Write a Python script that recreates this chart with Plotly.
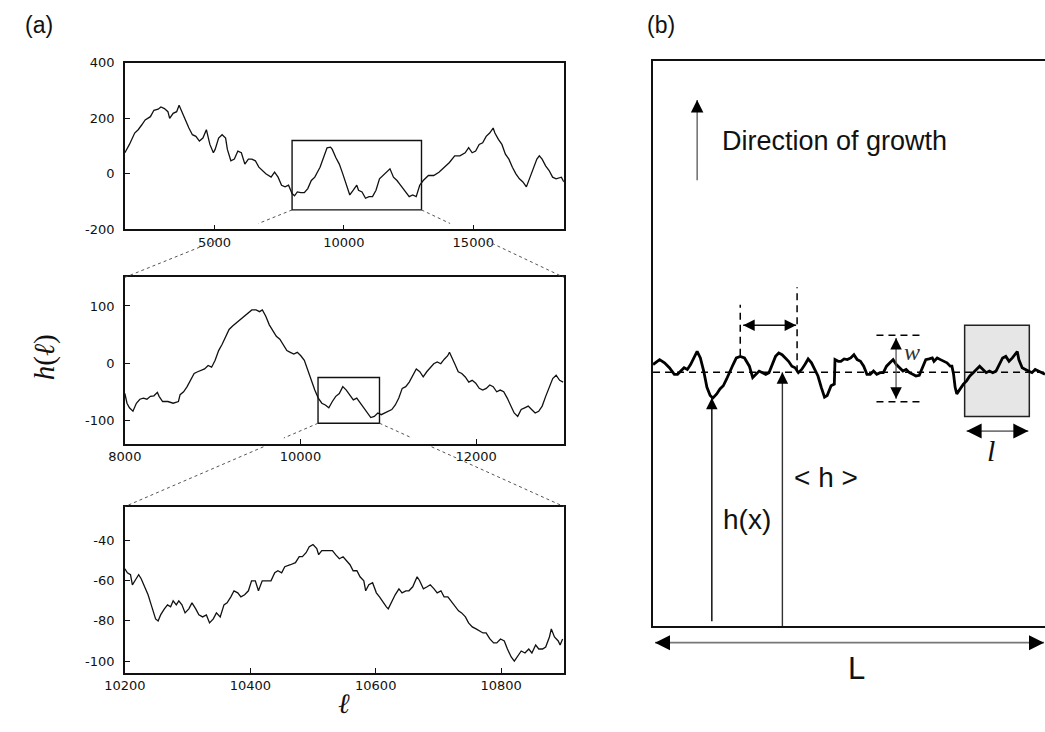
import plotly.graph_objects as go

# ---------------- data ----------------
# (a) top panel: whole interface h(l)
top_x = [1540, 1716, 1919, 2054, 2189, 2324, 2527, 2662, 2824, 2933, 3068, 3203, 3270, 3405, 3541, 3635,
         3743, 3878, 4014, 4149, 4284, 4419, 4554, 4689, 4757, 4824, 4959, 5027, 5162, 5297, 5432, 5500,
         5635, 5770, 5905, 6040, 6176, 6311, 6446, 6581, 6716, 6851, 6986, 7189, 7324, 7459, 7594, 7729,
         7864, 7999, 8094, 8202, 8337, 8472, 8607, 8743, 8878, 9013, 9080, 9216, 9351, 9486, 9553, 9689,
         9824, 9959, 10094, 10229, 10364, 10499, 10567, 10702, 10837, 10972, 11107, 11242, 11377, 11512,
         11647, 11782, 11917, 12053, 12188, 12323, 12525, 12660, 12795, 12931, 13066, 13268, 13471, 13674,
         13876, 14079, 14282, 14484, 14687, 14822, 14957, 15092, 15228, 15363, 15498, 15633, 15768, 15836,
         15971, 16106, 16241, 16376, 16511, 16647, 16782, 16917, 17052, 17187, 17322, 17457, 17552, 17660,
         17795, 17930, 18065, 18200, 18403, 18500]
top_h = [76, 106, 147, 159, 176, 194, 206, 229, 233, 241, 235, 224, 200, 218, 224, 247,
         224, 194, 165, 141, 135, 118, 129, 159, 129, 106, 76, 88, 129, 141, 129, 88,
         47, 53, 82, 76, 35, 53, 53, 47, 24, 12, 0, -12, 6, -12, -41, -47,
         -41, -71, -79, -65, -68, -68, -53, -24, -12, 12, 24, 59, 94, 96, 88, 59,
         35, 0, -35, -76, -59, -41, -59, -65, -88, -82, -82, -59, -18, -6,
         6, 18, -12, -24, -41, -59, -82, -76, -82, -41, -24, -6, -6, 6,
         24, 41, 65, 65, 76, 94, 76, 82, 106, 112, 135, 147, 165, 147,
         124, 106, 71, 53, 24, 0, -18, -29, -47, -12, 24, 53, 65, 53,
         29, 12, -12, -18, -12, -29]

# (a) middle panel: zoom 8000-13000
mid_x = [8000, 8024, 8052, 8092, 8131, 8171, 8211, 8251, 8291, 8331, 8370, 8390, 8430, 8490, 8550, 8610,
         8629, 8669, 8709, 8749, 8789, 8829, 8869, 8908, 8948, 8988, 9028, 9068, 9108, 9147, 9187, 9227,
         9267, 9307, 9347, 9386, 9446, 9494, 9534, 9566, 9605, 9645, 9685, 9725, 9765, 9805, 9845, 9884,
         9924, 9964, 10004, 10044, 10084, 10124, 10163, 10203, 10243, 10283, 10323, 10363, 10402, 10442,
         10482, 10522, 10562, 10602, 10641, 10681, 10721, 10761, 10801, 10841, 10881, 10920, 10960, 11000,
         11040, 11080, 11120, 11159, 11199, 11239, 11279, 11319, 11359, 11398, 11438, 11478, 11518, 11558,
         11598, 11638, 11677, 11697, 11717, 11757, 11797, 11837, 11877, 11917, 11956, 11996, 12036, 12076,
         12116, 12156, 12195, 12235, 12275, 12315, 12355, 12395, 12434, 12474, 12514, 12554, 12594, 12633,
         12673, 12713, 12753, 12793, 12833, 12873, 12912, 12952, 12992]
mid_h = [-53, -70, -78, -84, -70, -63, -61, -63, -58, -57, -51, -58, -67, -67, -70, -67,
         -55, -50, -41, -30, -18, -15, -13, -10, -4, -7, 5, 22, 33, 45, 59, 65,
         70, 74, 79, 85, 93, 93, 90, 93, 82, 67, 56, 47, 42, 33, 22, 19,
         16, 19, 13, 5, -13, -30, -47, -61, -70, -73, -78, -67, -58, -53,
         -41, -47, -55, -64, -61, -70, -78, -87, -95, -93, -87, -90, -87, -84,
         -81, -73, -61, -44, -41, -33, -21, -10, -15, -24, -15, -7, -1, 2,
         -1, 7, 13, 19, 13, -1, -15, -18, -24, -33, -30, -35, -44, -47,
         -44, -38, -41, -50, -47, -50, -61, -75, -87, -93, -81, -78, -75, -81,
         -87, -84, -75, -58, -41, -27, -21, -30, -33]

# (a) bottom panel: zoom 10200-10900
bot_x = [10200, 10204, 10209, 10212, 10218, 10222, 10226, 10232, 10237, 10243, 10249, 10253, 10257, 10263,
         10268, 10273, 10277, 10282, 10286, 10291, 10296, 10302, 10307, 10313, 10318, 10324, 10330, 10335,
         10341, 10346, 10352, 10358, 10363, 10369, 10374, 10380, 10385, 10391, 10397, 10402, 10408, 10413,
         10419, 10425, 10433, 10439, 10444, 10450, 10455, 10464, 10472, 10478, 10483, 10489, 10494, 10500,
         10506, 10509, 10514, 10520, 10525, 10531, 10536, 10542, 10548, 10553, 10559, 10564, 10570, 10575,
         10581, 10584, 10589, 10595, 10601, 10606, 10612, 10617, 10620, 10626, 10631, 10637, 10642, 10648,
         10653, 10659, 10666, 10670, 10676, 10682, 10687, 10693, 10698, 10704, 10709, 10715, 10720, 10726,
         10732, 10737, 10743, 10748, 10754, 10760, 10765, 10771, 10776, 10782, 10788, 10793, 10799, 10805,
         10810, 10816, 10821, 10827, 10832, 10838, 10844, 10849, 10855, 10860, 10866, 10871, 10877, 10880,
         10885, 10891, 10894, 10898]
bot_h = [-54, -56, -57, -62, -59, -57, -59, -63, -67, -73, -79, -80, -77, -74,
         -72, -73, -70, -72, -70, -72, -76, -74, -71, -74, -77, -78, -77, -81,
         -79, -76, -78, -72, -71, -68, -65, -66, -68, -67, -65, -60, -60, -65,
         -60, -60, -60, -56, -55, -56, -53, -52, -51, -48, -48, -46, -43, -42,
         -44, -47, -45, -45, -45, -45, -47, -49, -48, -50, -52, -55, -55, -58,
         -60, -65, -62, -61, -66, -68, -71, -73, -74, -70, -67, -64, -66, -65,
         -65, -63, -58, -60, -64, -63, -62, -64, -66, -65, -68, -68, -70, -72,
         -75, -76, -78, -81, -83, -84, -85, -86, -86, -89, -91, -91, -89, -90,
         -94, -98, -100, -97, -95, -96, -94, -96, -92, -94, -94, -93, -88, -84,
         -88, -90, -92, -89]

# (b) schematic interface profile (horizontal position, height above substrate)
surf_x = [0, 6.7, 11.7, 16.7, 21.7, 25, 28.3, 31.7, 35, 38.3, 41.7, 45, 48.3, 51.7, 55, 58.3, 61, 65,
          68.3, 71.7, 75, 78.3, 81.7, 85, 89, 93.3, 98.3, 101.7, 105, 108.3, 111.7, 115, 118.3, 121.7,
          125, 128.3, 131.7, 135, 138.3, 141.7, 145, 148.3, 151.7, 155, 158.3, 161.7, 165, 168.3, 171.7,
          175, 177.7, 181.7, 185, 185.7, 189, 191.7, 195, 198.3, 201.7, 205, 208.3, 211.7, 215, 218.3,
          221.7, 225, 228.3, 231.7, 235, 238.3, 241.7, 245, 248.3, 251.7, 255, 258.3, 261.7, 265, 268.3,
          271.7, 275, 278.3, 281.7, 285, 286.7, 290, 293.3, 296.7, 300, 303.3, 305, 306.7, 308.3, 310,
          313.3, 316.7, 320, 323.3, 326.7, 330, 333.3, 336.7, 340, 343.3, 346.7, 350, 353.3, 356.7, 360,
          363.3, 366.7, 370, 371.7, 373.3, 376.7, 380, 383.3, 386.7, 390, 393.3, 396.7, 400]
surf_h = [267, 272, 268.7, 263.7, 257, 257, 260.3, 263.7, 262, 267, 273.7, 280.3, 273.7, 260.3, 243.7,
          235.3, 232.7, 237, 242, 245.3, 252, 260.3, 267, 273.7, 275.3, 273.7, 265.3, 253.7, 257, 260.3,
          258.7, 257, 258.7, 267, 275.3, 278.7, 277, 273.7, 270.3, 265.3, 263.7, 258.7, 262, 267, 272.7,
          268.7, 262, 255.3, 243.7, 233.7, 235.3, 245.3, 247, 272, 270.3, 270.3, 272.7, 272, 273.7, 277,
          272, 270.3, 265.3, 257, 257, 260.3, 257, 258.7, 258.7, 265.3, 268.7, 272, 267, 263.7, 260.3,
          262, 258.7, 257, 255.3, 256, 263.7, 272, 272.7, 273.7, 270.3, 273.7, 272, 270.3, 268.7, 265.3,
          265.3, 257, 243.7, 237, 242, 247, 250.3, 255.3, 258.7, 262, 265.3, 262, 258.7, 260.3, 258.7,
          260.3, 267, 273.7, 275.3, 270.3, 273.7, 278.7, 280.3, 272, 263.7, 262, 260.3, 258.7, 262,
          260.3, 258.7, 257]
mean_h = 259
system_L = 400
box_l = [318, 384]
box_v = [214, 307]

# ---------------- layout helpers ----------------
W, H = 1045, 732
LX0, LX1 = 106, 554
panels = [
    dict(top=57, bot=227, xr=[1540, 18500], yr=[-200, 400],
         xt=[5000, 10000, 15000], yt=[400, 200, 0, -200], zoom=[8000, 13000, -130, 120]),
    dict(top=276, bot=446, xr=[8000, 13000], yr=[-141, 150],
         xt=[8000, 10000, 12000], yt=[100, 0, -100], zoom=[10200, 10900, -105, -25]),
    dict(top=510, bot=680, xr=[10200, 10900], yr=[-106, -23],
         xt=[10200, 10400, 10600, 10800], yt=[-40, -60, -80, -100], zoom=None),
]
series = [(top_x, top_h), (mid_x, mid_h), (bot_x, bot_h)]

# schematic axis placement (pixels)
SX0, STOP, SBOT = 645, 55, 632


def to_px(p, xv, yv):
    px = LX0 + (xv - p['xr'][0]) / (p['xr'][1] - p['xr'][0]) * (LX1 - LX0)
    py = p['bot'] - (yv - p['yr'][0]) / (p['yr'][1] - p['yr'][0]) * (p['bot'] - p['top'])
    return px, py


fig = go.Figure()
shapes = []
annotations = []
tickfont = dict(family="DejaVu Sans, Liberation Sans, sans-serif", size=13, color="#111")

for i, (p, (sx, sy)) in enumerate(zip(panels, series), start=1):
    xa = 'x' if i == 1 else f'x{i}'
    ya = 'y' if i == 1 else f'y{i}'
    fig.add_trace(go.Scatter(x=sx, y=sy, mode='lines', xaxis=xa, yaxis=ya,
                             line=dict(color='#111', width=1.3), hoverinfo='skip'))
    common = dict(showline=True, mirror=True, linecolor='#111', linewidth=1.6, showgrid=False,
                  zeroline=False, ticks='inside', ticklen=5, tickwidth=1.2, tickcolor='#111',
                  tickfont=tickfont)
    fig.update_layout(**{
        ('xaxis' if i == 1 else f'xaxis{i}'): dict(
            domain=[LX0 / W, LX1 / W], range=p['xr'], anchor=ya,
            tickvals=p['xt'], ticktext=[str(v) for v in p['xt']], **common),
        ('yaxis' if i == 1 else f'yaxis{i}'): dict(
            domain=[1 - p['bot'] / H, 1 - p['top'] / H], range=p['yr'], anchor=xa,
            tickvals=p['yt'], ticktext=[str(v) for v in p['yt']], ticklabelstandoff=6, **common),
    })
    if p['zoom'] is not None:
        z0, z1, zb, zt = p['zoom']
        shapes.append(dict(type='rect', xref=xa, yref=ya, x0=z0, x1=z1, y0=zb, y1=zt,
                           line=dict(color='#111', width=1.4)))
        nxt = panels[i]
        gap0, gap1 = p['bot'] - 6, p['bot'] + (9 if i == 1 else 3)
        for corner_x, target_px in ((z0, LX0), (z1, LX1)):
            cx, cy = to_px(p, corner_x, zb)
            tx, ty = target_px, nxt['top']

            def at_y(yy, cx=cx, cy=cy, tx=tx, ty=ty):
                return cx + (tx - cx) * (yy - cy) / (ty - cy)
            for (a, b) in (((cx, cy), (at_y(gap0), gap0)), ((at_y(gap1), gap1), (tx, ty))):
                shapes.append(dict(type='line', xref='paper', yref='paper',
                                   x0=a[0] / W, y0=1 - a[1] / H, x1=b[0] / W, y1=1 - b[1] / H,
                                   line=dict(color='#555', width=1, dash='dot')))

# ---------------- (b) schematic ----------------
fig.add_trace(go.Scatter(x=surf_x, y=surf_h, mode='lines', xaxis='x4', yaxis='y4',
                         line=dict(color='black', width=2.8), hoverinfo='skip'))
fig.update_layout(
    xaxis4=dict(domain=[SX0 / W, 1.0], range=[0, system_L], anchor='y4', showline=True, mirror=True,
                linecolor='#111', linewidth=2, showticklabels=False, ticks='', showgrid=False,
                zeroline=False),
    yaxis4=dict(domain=[1 - SBOT / H, 1 - STOP / H], range=[0, SBOT - STOP], anchor='x4',
                showline=True, mirror=False, linecolor='#111', linewidth=2, showticklabels=False,
                ticks='', showgrid=False, zeroline=False),
)
# grey averaging box
shapes.append(dict(type='rect', xref='x4', yref='y4', x0=box_l[0], x1=box_l[1], y0=box_v[0], y1=box_v[1],
                   fillcolor='#e6e6e6', line=dict(color='#222', width=1.5), layer='below'))
# mean height dashed line
shapes.append(dict(type='line', xref='x4', yref='y4', x0=0, x1=system_L, y0=mean_h, y1=mean_h,
                   line=dict(color='black', width=1.5, dash='7px,5px')))
# dashed verticals marking a lateral distance
shapes.append(dict(type='line', xref='x4', yref='y4', x0=89, x1=89, y0=276, y1=328,
                   line=dict(color='black', width=1.5, dash='7px,5px')))
shapes.append(dict(type='line', xref='x4', yref='y4', x0=147, x1=147, y0=mean_h, y1=346,
                   line=dict(color='black', width=1.5, dash='7px,5px')))
# width w markers
for yy in (229, 297):
    shapes.append(dict(type='line', xref='x4', yref='y4', x0=228, x1=273, y0=yy, y1=yy,
                       line=dict(color='black', width=1.5, dash='7px,5px')))


def sgn(v):
    return (v > 0) - (v < 0)


def arrow(x0, y0, x1, y1, both=False, color='#111', width=1.4, head=2.2, ref=('x4', 'y4')):
    """shaft drawn as a line, black filled heads drawn as short annotation arrows"""
    shapes.append(dict(type='line', xref=ref[0], yref=ref[1], x0=x0, y0=y0, x1=x1, y1=y1,
                       line=dict(color=color, width=width)))
    # screen direction of the shaft (y grows downward on screen)
    dx, dy = sgn(x1 - x0), -sgn(y1 - y0)
    ends = [((x1, y1), (dx, dy))]
    if both:
        ends.append(((x0, y0), (-dx, -dy)))
    for (tx, ty), (ux, uy) in ends:
        annotations.append(dict(x=tx, y=ty, xref=ref[0], yref=ref[1], ax=-ux * 10, ay=-uy * 10,
                                axref='pixel', ayref='pixel', showarrow=True, text='',
                                arrowhead=2, arrowsize=head / 1.2, arrowwidth=1.2,
                                arrowcolor='black'))


arrow(45, 455, 45, 537, color='#555', width=1.3, head=2.5)            # direction of growth
arrow(60, 5, 60, 233, color='#111', width=1.5, head=2.3)              # h(x)
arrow(132, 0, 132, mean_h, color='#333', width=1.4, head=2.3)         # <h>
arrow(92, 307, 146, 307, both=True, color='#111', width=1.5, head=2.3)
arrow(248, 232, 248, 294, both=True, color='#555', width=1.3, head=2.3)
arrow(320, 199, 383, 199, both=True, color='#777', width=1.8, head=3.0)
# system size L (below the frame, so placed in page coordinates)
arrow(647 / W, 1 - 649 / H, 1044 / W, 1 - 649 / H, both=True, color='#777', width=1.8, head=3.0,
      ref=('paper', 'paper'))

sans = "Liberation Sans, Arial, sans-serif"
serif = "Liberation Serif, DejaVu Serif, serif"
annotations += [
    dict(x=68, y=495, xref='x4', yref='y4', text='Direction of growth', showarrow=False,
         xanchor='left', yanchor='middle', font=dict(family=sans, size=27, color='#111')),
    dict(x=142, y=152, xref='x4', yref='y4', text='&lt; h &gt;', showarrow=False,
         xanchor='left', yanchor='middle', font=dict(family=sans, size=28, color='#111')),
    dict(x=69, y=109, xref='x4', yref='y4', text='h(x)', showarrow=False,
         xanchor='left', yanchor='middle', font=dict(family=sans, size=28, color='#111')),
    dict(x=853 / W, y=1 - 675 / H, xref='paper', yref='paper', text='L', showarrow=False,
         xanchor='center', yanchor='middle', font=dict(family=sans, size=31, color='#111')),
    dict(x=264, y=280, xref='x4', yref='y4', text='<i>w</i>', showarrow=False,
         xanchor='center', yanchor='middle', font=dict(family=serif, size=24, color='#333')),
    dict(x=345, y=179, xref='x4', yref='y4', text='<i>l</i>', showarrow=False,
         xanchor='center', yanchor='middle', font=dict(family=serif, size=30, color='#111')),
    # panel labels and left axis titles
    dict(x=2 / W, y=1 - 18 / H, xref='paper', yref='paper', text='(a)', showarrow=False,
         xanchor='left', yanchor='middle', font=dict(family=sans, size=23, color='#111')),
    dict(x=637 / W, y=1 - 18 / H, xref='paper', yref='paper', text='(b)', showarrow=False,
         xanchor='left', yanchor='middle', font=dict(family=sans, size=23, color='#111')),
    dict(x=24 / W, y=1 - 358 / H, xref='paper', yref='paper', text='<i>h</i>(<i>ℓ</i>)',
         showarrow=False, textangle=-90, xanchor='center', yanchor='middle',
         font=dict(family=serif, size=29, color='#111')),
    dict(x=330 / W, y=1 - 711 / H, xref='paper', yref='paper', text='<i>ℓ</i>', showarrow=False,
         xanchor='center', yanchor='middle', font=dict(family=serif, size=28, color='#111')),
]

fig.update_layout(width=W, height=H, margin=dict(l=0, r=0, t=0, b=0),
                  paper_bgcolor='white', plot_bgcolor='white', showlegend=False,
                  shapes=shapes, annotations=annotations)
fig.write_html("out.html")
